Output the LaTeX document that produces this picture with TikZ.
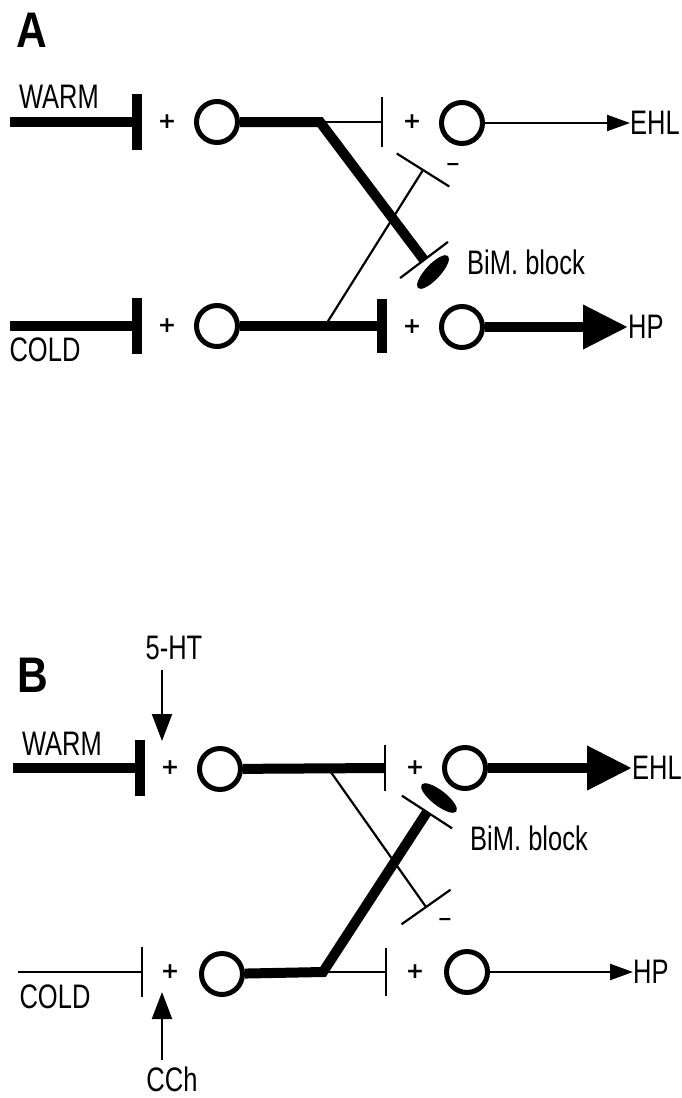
\documentclass[tikz,border=0pt]{standalone}
\usepackage{fontspec}
\setmainfont{Liberation Sans}
\newfontfamily\labfont[FakeStretch=0.75]{Liberation Sans}
\newfontfamily\panfont[FakeStretch=0.85]{Liberation Sans}
\newfontfamily\signfont{DejaVu Sans}
\usetikzlibrary{arrows.meta,calc,shapes.geometric}
\begin{document}
\begin{tikzpicture}[x=1pt,y=-1pt,
  lab/.style={font=\labfont\fontsize{34}{40}\selectfont, inner sep=0pt},
  panel/.style={font=\panfont\bfseries\fontsize{50}{56}\selectfont, inner sep=0pt},
  plus/.style={font=\signfont\bfseries\fontsize{22}{22}\selectfont, inner sep=0pt},
  minus/.style={font=\bfseries\fontsize{22}{22}\selectfont, inner sep=0pt},
  cell/.style={circle, draw, line width=5pt, minimum size=41pt, inner sep=0pt},
  heavy/.style={line width=10pt},
  light/.style={line width=2.2pt},
  blockmark/.style={ellipse, fill, minimum width=44pt, minimum height=15pt, inner sep=0pt},
  thintip/.style={-{Triangle[length=23pt,width=16pt]}},
  fattip/.style={-{Triangle[length=45pt,width=42pt]}},
  drugtip/.style={-{Triangle[length=27pt,width=20pt]}},
]
\useasboundingbox (0,0) rectangle (681,1098);

% ================= Panel A =================
\node[panel] (labA) at (32,30) {A};
\node[lab] (warmA) at (59,97) {WARM};
\node[lab] (coldA) at (45,350) {COLD};

\coordinate (wA0) at (10,122);
\coordinate (wAb) at (137,122);
\coordinate (cA0) at (10,326);
\coordinate (cAb) at (137,326);

\node[plus] (pA1) at (167,122) {+};
\node[plus] (pA2) at (167,326) {+};
\node[cell] (c1A) at (217,122) {};
\node[cell] (c3A) at (217,326) {};

\coordinate (jA) at (320,122);
\coordinate (ehA) at (382,122);
\coordinate (kA) at (325,326);
\coordinate (hpA) at (382,326);
\coordinate (IA) at (423,170);
\coordinate (BA) at (424,260);

\node[plus] (pA3) at (412,122) {+};
\node[plus] (pA4) at (412,327) {+};
\node[cell] (c2A) at (462,123) {};
\node[cell] (c4A) at (462,327) {};
\node[lab, anchor=west] (ehlA) at (630,123) {EHL};
\node[lab, anchor=west] (hpLA) at (628,327) {HP};
\node[minus] (mA) at (453,167) {--};
\node[lab, anchor=west] (bimA) at (467,262) {BiM. block};
\node[blockmark, rotate=47] (blkA) at (433,272) {};

% inputs
\draw[heavy] (wA0) -- (wAb);
\draw[heavy] ($(wAb)+(0,-28)$) -- ($(wAb)+(0,28)$);
\draw[heavy] (cA0) -- (cAb);
\draw[heavy] ($(cAb)+(0,-28)$) -- ($(cAb)+(0,28)$);

% upper interneuron
\draw[heavy] (c1A) -- (jA) -- (BA);
\draw[light] ($(BA)!30pt!90:(jA)$) -- ($(BA)!30pt!-90:(jA)$);
\draw[light] (jA) -- (ehA);
\draw[light] ($(ehA)+(0,-25)$) -- ($(ehA)+(0,25)$);
\draw[light, thintip] (c2A) -- (ehlA.west);

% lower interneuron
\draw[heavy] (c3A) -- (hpA);
\draw[heavy] ($(hpA)+(0,-27)$) -- ($(hpA)+(0,27)$);
\draw[light] (kA) -- (IA);
\draw[light] ($(IA)!31pt!90:(kA)$) -- ($(IA)!31pt!-90:(kA)$);
\draw[heavy, fattip] (c4A) -- (hpLA.west);

% ================= Panel B =================
\node[panel] (labB) at (33,675) {B};
\node[lab] (htB) at (174,648) {5-HT};
\node[lab] (warmB) at (62,744) {WARM};
\node[lab] (coldB) at (55,997) {COLD};
\node[lab] (cchB) at (172,1079) {CCh};

\coordinate (htS) at (162,670);
\coordinate (htE) at (162,741);
\coordinate (cchS) at (162,1060);
\coordinate (cchE) at (162,992);

\coordinate (wB0) at (13,768);
\coordinate (wBb) at (140,768);
\coordinate (cB0) at (18,972);
\coordinate (cBb) at (142,972);

\node[plus] (pB1) at (170,768) {+};
\node[plus] (pB2) at (170,972) {+};
\node[cell] (c1B) at (220,769) {};
\node[cell] (c3B) at (222,974) {};

\coordinate (jB) at (328,768);
\coordinate (ehB) at (385,768);
\coordinate (kB) at (323,972);
\coordinate (hpB) at (386,972);
\coordinate (IB) at (426,907);
\coordinate (BB) at (427,812);

\node[plus] (pB3) at (415,768) {+};
\node[plus] (pB4) at (415,972) {+};
\node[cell] (c2B) at (465,768) {};
\node[cell] (c4B) at (467,972) {};
\node[lab, anchor=west] (ehlB) at (632,768) {EHL};
\node[lab, anchor=west] (hpLB) at (633,972) {HP};
\node[minus] (mB) at (445,922) {--};
\node[lab, anchor=west] (bimB) at (470,838) {BiM. block};
\node[blockmark, rotate=-38] (blkB) at (439,798) {};

% drug arrows
\draw[light, drugtip] (htS) -- (htE);
\draw[light, drugtip] (cchS) -- (cchE);

% inputs
\draw[heavy] (wB0) -- (wBb);
\draw[heavy] ($(wBb)+(0,-28)$) -- ($(wBb)+(0,28)$);
\draw[light] (cB0) -- (cBb);
\draw[light] ($(cBb)+(0,-25)$) -- ($(cBb)+(0,25)$);

% upper interneuron
\draw[heavy] (c1B) -- (ehB);
\draw[light] ($(ehB)+(0,-23)$) -- ($(ehB)+(0,23)$);
\draw[light] (jB) -- (IB);
\draw[light] ($(IB)!30pt!90:(jB)$) -- ($(IB)!30pt!-90:(jB)$);
\draw[heavy, fattip] (c2B) -- (ehlB.west);

% lower interneuron
\draw[heavy] (c3B) -- (kB) -- (BB);
\draw[light] ($(BB)!30pt!90:(kB)$) -- ($(BB)!30pt!-90:(kB)$);
\draw[light] (kB) -- (hpB);
\draw[light] ($(hpB)+(0,-24)$) -- ($(hpB)+(0,24)$);
\draw[light, thintip] (c4B) -- (hpLB.west);
\end{tikzpicture}
\end{document}
